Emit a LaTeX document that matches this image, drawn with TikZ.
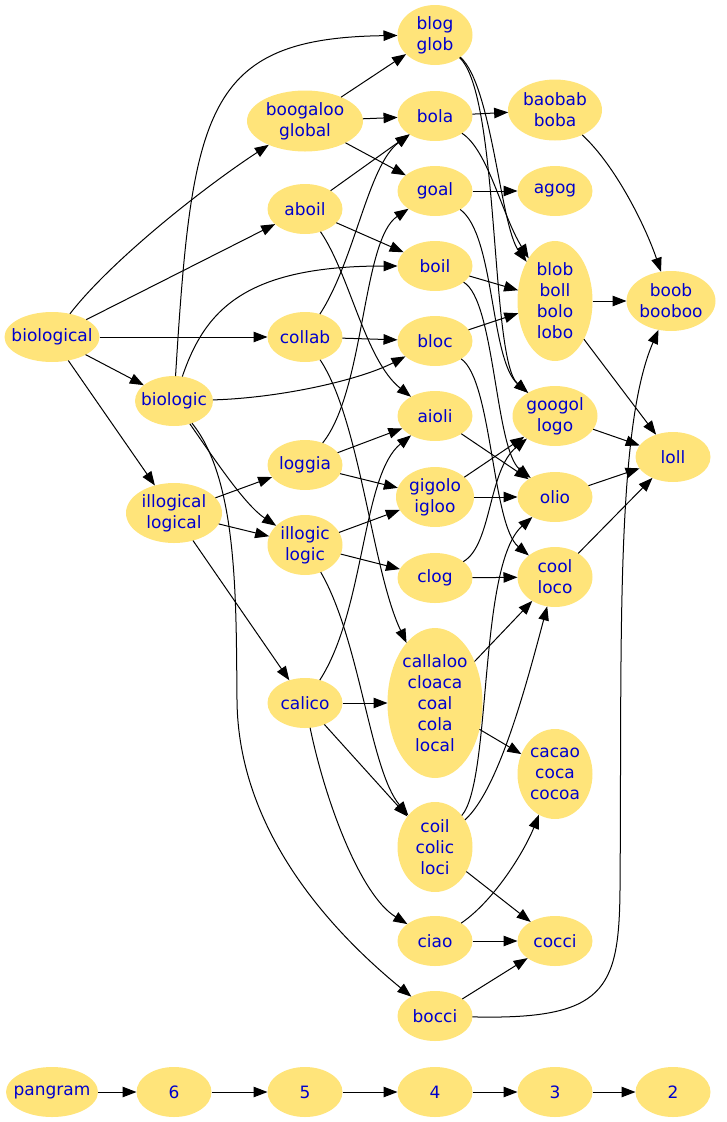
\documentclass[tikz,border=0pt]{standalone}
\usepackage{fontspec}
\setmainfont{DejaVu Sans}
\usetikzlibrary{shapes.geometric,arrows.meta}
\definecolor{wordfill}{RGB}{255,228,122}
\definecolor{wordtext}{RGB}{0,0,205}
\begin{document}
\begin{tikzpicture}[x=1pt,y=-1pt,
    word/.style={ellipse, fill=wordfill, text=wordtext, inner sep=-10pt, outer sep=0pt,
      minimum width=75pt, minimum height=50pt, align=center, font=\fontsize{17}{21}\selectfont},
    link/.style={-{Triangle[length=14pt,width=10.5pt]}, line width=1pt}]
        \useasboundingbox (0,0) rectangle (726,1122);

        % Seven letters
        \node[word, minimum width=95pt] (biological) at (52,337) {biological};

        % Six letters
        \node[word, minimum width=78pt] (biologic) at (174,401) {biologic};
        \node[word, minimum width=96pt, minimum height=60pt] (illogical) at (174,513) {illogical\\logical};

        % Five letters
        \node[word, minimum width=116pt, minimum height=61pt] (boogaloo) at (305,121) {boogaloo\\global};
        \node[word] (aboil) at (305,209) {aboil};
        \node[word] (collab) at (305,337) {collab};
        \node[word] (loggia) at (305,465) {loggia};
        \node[word, minimum height=60pt] (illogic) at (305,545) {illogic\\logic};
        \node[word] (calico) at (305,703) {calico};

        % Four letters
        \node[word, minimum height=60pt] (blog) at (435,35) {blog\\glob};
        \node[word] (bola) at (435,116) {bola};
        \node[word] (goal) at (435,191) {goal};
        \node[word] (boil) at (435,266) {boil};
        \node[word] (bloc) at (435,341) {bloc};
        \node[word] (aioli) at (435,416) {aioli};
        \node[word, minimum width=78pt, minimum height=60pt] (gigolo) at (435,497) {gigolo\\igloo};
        \node[word] (clog) at (435,578) {clog};
        \node[word, minimum width=95pt, minimum height=150pt] (callaloo) at (435,703) {callaloo\\cloaca\\coal\\cola\\local};
        \node[word, minimum height=90pt] (coil) at (435,847) {coil\\colic\\loci};
        \node[word] (ciao) at (435,941) {ciao};
        \node[word] (bocci) at (435,1016) {bocci};

        % Three letters
        \node[word, minimum width=94pt, minimum height=61pt] (baobab) at (555,110) {baobab\\boba};
        \node[word] (agog) at (555,191) {agog};
        \node[word, minimum height=120pt] (blob) at (555,301) {blob\\boll\\bolo\\lobo};
        \node[word, minimum width=85pt, minimum height=60pt] (googol) at (555,416) {googol\\logo};
        \node[word] (olio) at (555,497) {olio};
        \node[word, minimum height=60pt] (cool) at (555,577) {cool\\loco};
        \node[word, minimum height=90pt] (cacao) at (555,774) {cacao\\coca\\cocoa};
        \node[word] (cocci) at (555,941) {cocci};

        % Two letters
        \node[word, minimum width=89pt, minimum height=60pt] (boob) at (671,301) {boob\\booboo};
        \node[word] (loll) at (673,457) {loll};

        % Legend row
        \node[word, minimum width=92pt] (pangram) at (52,1092) {pangram};
        \node[word] (six) at (174,1092) {6};
        \node[word] (five) at (305,1092) {5};
        \node[word] (four) at (435,1092) {4};
        \node[word] (three) at (555,1092) {3};
        \node[word] (two) at (673,1092) {2};

        % From seven letters
        \draw[link] (biological) .. controls (110,262) and (200,190) .. (boogaloo);
        \draw[link] (biological) -- (aboil);
        \draw[link] (biological) -- (collab);
        \draw[link] (biological) -- (biologic);
        \draw[link] (biological) -- (illogical);

        % From six letters
        \draw[link] (biologic) .. controls (192,110) and (205,38) .. (blog);
        \draw[link] (biologic) .. controls (205,310) and (245,266) .. (boil);
        \draw[link] (biologic) .. controls (280,398) and (360,380) .. (bloc);
        \draw[link] (biologic) .. controls (215,460) and (245,505) .. (illogic);
        \draw[link] (biologic) .. controls (238,480) and (236,600) .. (237,700)
            .. controls (238,830) and (330,930) .. (bocci);
        \draw[link] (illogical) -- (loggia);
        \draw[link] (illogical) -- (illogic);
        \draw[link] (illogical) -- (calico);

        % From five letters
        \draw[link] (boogaloo) -- (blog);
        \draw[link] (boogaloo) -- (bola);
        \draw[link] (boogaloo) -- (goal);
        \draw[link] (aboil) -- (bola);
        \draw[link] (aboil) -- (boil);
        \draw[link] (aboil) .. controls (350,275) and (365,360) .. (aioli);
        \draw[link] (collab) .. controls (355,260) and (368,165) .. (bola);
        \draw[link] (collab) -- (bloc);
        \draw[link] (collab) .. controls (360,420) and (372,570) .. (callaloo);
        \draw[link] (loggia) .. controls (365,390) and (362,240) .. (goal);
        \draw[link] (loggia) -- (aioli);
        \draw[link] (loggia) -- (gigolo);
        \draw[link] (illogic) -- (gigolo);
        \draw[link] (illogic) -- (clog);
        \draw[link] (illogic) .. controls (360,640) and (370,770) .. (coil);
        \draw[link] (calico) .. controls (365,610) and (362,475) .. (aioli);
        \draw[link] (calico) -- (callaloo);
        \draw[link] (calico) -- (coil);
        \draw[link] (calico) .. controls (325,800) and (360,895) .. (ciao);

        % From four letters
        \draw[link] (blog) .. controls (492,85) and (500,225) .. (blob);
        \draw[link] (blog) .. controls (500,95) and (490,360) .. (googol);
        \draw[link] (bola) -- (baobab);
        \draw[link] (bola) .. controls (488,150) and (502,215) .. (blob);
        \draw[link] (goal) -- (agog);
        \draw[link] (goal) .. controls (495,235) and (490,360) .. (googol);
        \draw[link] (boil) -- (blob);
        \draw[link] (boil) .. controls (495,300) and (495,450) .. (olio);
        \draw[link] (bloc) -- (blob);
        \draw[link] (bloc) .. controls (492,380) and (492,525) .. (cool);
        \draw[link] (aioli) -- (olio);
        \draw[link] (gigolo) -- (googol);
        \draw[link] (gigolo) -- (olio);
        \draw[link] (clog) .. controls (492,545) and (488,470) .. (googol);
        \draw[link] (clog) -- (cool);
        \draw[link] (callaloo) -- (cool);
        \draw[link] (callaloo) -- (cacao);
        \draw[link] (coil) .. controls (492,780) and (478,565) .. (olio);
        \draw[link] (coil) .. controls (498,790) and (525,690) .. (cool);
        \draw[link] (coil) -- (cocci);
        \draw[link] (ciao) .. controls (495,900) and (525,850) .. (cacao);
        \draw[link] (ciao) -- (cocci);
        \draw[link] (bocci) -- (cocci);
        \draw[link] (bocci) .. controls (605,1020) and (619,990) .. (620,890)
            .. controls (622,650) and (615,430) .. (boob);

        % From three letters
        \draw[link] (baobab) .. controls (615,165) and (645,225) .. (boob);
        \draw[link] (blob) -- (boob);
        \draw[link] (blob) -- (loll);
        \draw[link] (googol) -- (loll);
        \draw[link] (olio) -- (loll);
        \draw[link] (cool) -- (loll);

        % Legend arrows
        \draw[link] (pangram) -- (six);
        \draw[link] (six) -- (five);
        \draw[link] (five) -- (four);
        \draw[link] (four) -- (three);
        \draw[link] (three) -- (two);
\end{tikzpicture}
\end{document}
